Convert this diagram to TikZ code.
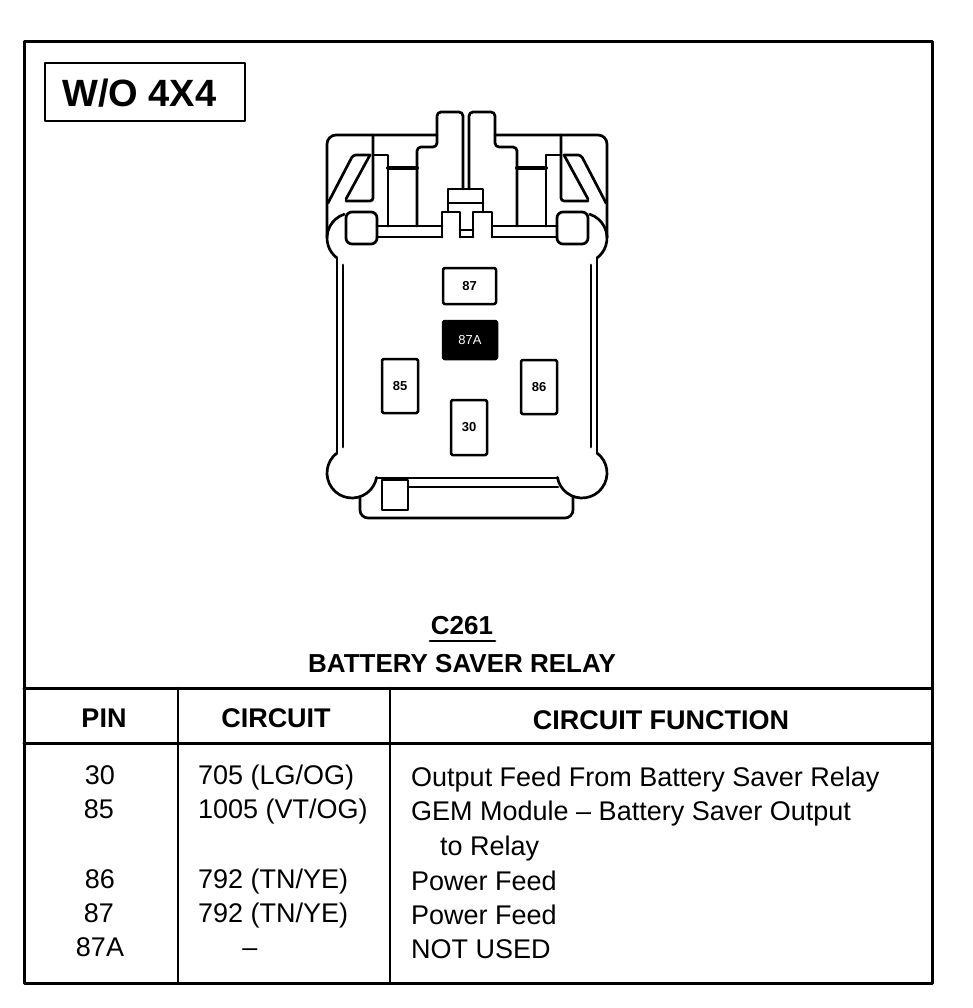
\documentclass[tikz,border=0pt]{standalone}
\usepackage{fontspec}
\setmainfont{Liberation Sans}
\begin{document}
\begin{tikzpicture}[x=1pt,y=-1pt, line join=round, line cap=round,
  ol/.style={line width=2.7pt},
  frame/.style={line width=3pt},
  pinbox/.style={draw, line width=2.5pt, rounded corners=1.5pt, inner sep=0pt, font=\fontsize{13}{13}\selectfont\bfseries},
  tt/.style={inner sep=0pt, font=\fontsize{27}{27}\selectfont},
  th/.style={inner sep=0pt, font=\fontsize{27}{27}\selectfont\bfseries}]
\useasboundingbox (0,0) rectangle (972,1008);
\fill[white] (0,0) rectangle (972,1008);
% ---------- frame and table grid
\draw[frame] (24,42) rectangle (932,983);
\draw[frame] (24,688) -- (932,688);
\draw[frame] (24,743) -- (932,743);
\draw[ol] (178,688) -- (178,983);
\draw[ol] (390,688) -- (390,983);
% ---------- title box
\node[draw, line width=2.6pt, minimum width=200, minimum height=58, inner sep=0pt] (title) at (145,92) {};
\node[inner sep=0pt, anchor=base west, font=\fontsize{38}{38}\selectfont\bfseries] (titletext) at (62,107) {W/O 4X4};
% ---------- connector: top section
\draw[ol, rounded corners=9] (327,238) -- (327,135) -- (437,135);
\draw[ol, rounded corners=9] (495,135) -- (607,135) -- (607,238);
\draw[ol, rounded corners=4] (417,226) -- (417,147) -- (437,147) -- (437,112) -- (463,112) -- (463,189);
\draw[ol, rounded corners=4] (469,189) -- (469,112) -- (495,112) -- (495,147) -- (517,147) -- (517,226);
% central small pieces
\draw[ol] (448,212) -- (448,189) -- (483,189) -- (483,212);
\draw[ol] (448,203) -- (483,203);
\draw[ol] (442,237) -- (442,212) -- (460,212) -- (460,237);
\draw[ol] (473,237) -- (473,212) -- (492,212) -- (492,237);
\draw[ol] (460,230) -- (473,230);
\draw[ol] (460,237) -- (473,237);
% bars
\draw[ol] (377,226) -- (442,226);
\draw[ol] (377,237) -- (442,237);
\draw[ol] (492,226) -- (557,226);
\draw[ol] (492,237) -- (557,237);
% inner verticals, left
\draw[ol, rounded corners=3] (373,135) -- (373,201) -- (346,201);
\draw[ol] (373,155) -- (388,155) -- (388,226);
\draw[line width=4pt] (388,168) -- (417,168);
\draw[ol, rounded corners=3] (370,155) -- (353,155) -- (328,203);
\draw[ol] (370,155) -- (346,199);
% inner verticals, right
\draw[ol, rounded corners=3] (561,135) -- (561,201) -- (588,201);
\draw[ol] (561,155) -- (546,155) -- (546,226);
\draw[line width=4pt] (546,168) -- (517,168);
\draw[ol, rounded corners=3] (564,155) -- (581,155) -- (606,203);
\draw[ol] (564,155) -- (588,199);
% small corner squares
\draw[ol, rounded corners=6] (346,212) rectangle (377,244);
\draw[ol, rounded corners=6] (557,212) rectangle (588,244);
% lobes
\draw[ol] (352,238) ++(252:25) arc[start angle=252, end angle=127, radius=25];
\draw[ol] (582,238) ++(-72:25) arc[start angle=-72, end angle=53, radius=25];
\draw[ol] (352,473) ++(233:25) arc[start angle=233, end angle=10, radius=25];
\draw[ol] (582,473) ++(-53:25) arc[start angle=-53, end angle=170, radius=25];
% side walls
\draw[ol] (337,258) -- (337,453);
\draw[ol] (343,265) -- (343,447);
\draw[ol] (597,258) -- (597,453);
\draw[ol] (591,265) -- (591,447);
% bottom section
\draw[ol] (376,478) -- (558,478);
\draw[ol] (408,487) -- (558,487);
\draw[ol] (382,480) rectangle (408,510);
\draw[ol, rounded corners=8] (360,497) -- (360,518) -- (573,518) -- (573,497);
% pin cavities
\node[pinbox, minimum width=53, minimum height=36] (p87) at (469.5,286) {87};
\node[pinbox, fill=black, text=white, font=\fontsize{13}{13}\selectfont, minimum width=54, minimum height=38] (p87a) at (470,340) {87A};
\node[pinbox, minimum width=36, minimum height=54] (p85) at (400,386) {85};
\node[pinbox, minimum width=36, minimum height=54] (p86) at (539,387) {86};
\node[pinbox, minimum width=36, minimum height=55] (p30) at (469,427.5) {30};
% ---------- caption
\node[inner sep=0pt, anchor=base, font=\fontsize{26}{26}\selectfont\bfseries] (cnum) at (462,634) {C261};
\draw[ol] (430,641) -- (495,641);
\node[inner sep=0pt, anchor=base, font=\fontsize{26}{26}\selectfont\bfseries] (cname) at (462,672) {BATTERY SAVER RELAY};
% ---------- table header
\node[th, anchor=base] (hpin) at (104,727) {PIN};
\node[th, anchor=base] (hcirc) at (276,727) {CIRCUIT};
\node[th, anchor=base] (hfunc) at (661,729) {CIRCUIT FUNCTION};
% ---------- table rows
\node[tt, anchor=base] (r1p) at (100,784) {30};
\node[tt, anchor=base west] (r1c) at (198,784) {705 (LG/OG)};
\node[tt, anchor=base west] (r1f) at (411,786) {Output Feed From Battery Saver Relay};
\node[tt, anchor=base] (r2p) at (99,818) {85};
\node[tt, anchor=base west] (r2c) at (198,818) {1005 (VT/OG)};
\node[tt, anchor=base west] (r2f) at (411,820) {GEM Module -- Battery Saver Output};
\node[tt, anchor=base west] (r2f2) at (440,855) {to Relay};
\node[tt, anchor=base] (r3p) at (100,888) {86};
\node[tt, anchor=base west] (r3c) at (198,888) {792 (TN/YE)};
\node[tt, anchor=base west] (r3f) at (411,890) {Power Feed};
\node[tt, anchor=base] (r4p) at (99,922) {87};
\node[tt, anchor=base west] (r4c) at (198,922) {792 (TN/YE)};
\node[tt, anchor=base west] (r4f) at (411,924) {Power Feed};
\node[tt, anchor=base] (r5p) at (100,956) {87A};
\node[tt, anchor=base] (r5c) at (250,956) {--};
\node[tt, anchor=base west] (r5f) at (411,958) {NOT USED};
\end{tikzpicture}
\end{document}
